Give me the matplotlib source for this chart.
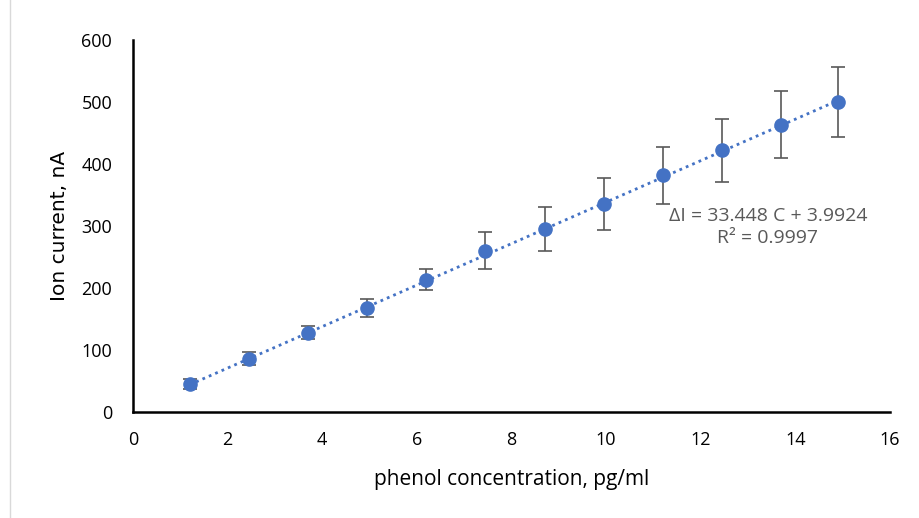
import numpy as np
import matplotlib.pyplot as plt
from matplotlib.lines import Line2D

# Calibration data
conc = [1.2, 2.45, 3.7, 4.95, 6.2, 7.45, 8.7, 9.95, 11.2, 12.45, 13.7, 14.9]
current = [45, 86, 128, 168, 213, 260, 295, 335, 382, 422, 463, 500]
err = [8, 10, 11, 14, 17, 30, 35, 42, 46, 51, 54, 57]

# Linear fit shown on the chart
slope = 33.448
intercept = 3.9924

plt.rcParams['font.family'] = ['Open Sans', 'DejaVu Sans']

fig = plt.figure(figsize=(9.19, 5.18), dpi=100)
ax = fig.add_axes([0.1447, 0.2046, 0.8237, 0.7182])

fit_x = np.array([conc[0], conc[-1]])
ax.plot(fit_x, slope * fit_x + intercept, linestyle=(0, (1, 1.5)), color='#4472C4', linewidth=2, zorder=2)
ax.errorbar(conc, current, yerr=err, fmt='o', color='#4472C4', markersize=9.5,
            ecolor='#595959', elinewidth=1.2, capsize=5, capthick=1.2, zorder=3)

ax.set_xlim(0, 16)
ax.set_ylim(0, 600)
ax.set_xticks(range(0, 17, 2))
ax.set_yticks(range(0, 601, 100))
ax.tick_params(length=0, labelsize=13, colors='#000000')
ax.tick_params(axis='x', pad=14)
ax.tick_params(axis='y', pad=15)
for s in ['top', 'right']:
    ax.spines[s].set_visible(False)
for s in ['left', 'bottom']:
    ax.spines[s].set_linewidth(1.8)
    ax.spines[s].set_color('black')

ax.set_xlabel('phenol concentration, pg/ml', fontsize=15, labelpad=14)
ax.set_ylabel('Ion current, nA', fontsize=14.5, labelpad=9, family='DejaVu Sans')

ax.text(13.42, 299, 'ΔI = 33.448 C + 3.9924\nR² = 0.9997', ha='center', va='center',
        fontsize=14, color='#595959', linespacing=1.3)

fig.add_artist(Line2D([0.011, 0.011], [0, 1], color='#d9d9d9', linewidth=1))

fig.savefig('out.png', dpi=100)
